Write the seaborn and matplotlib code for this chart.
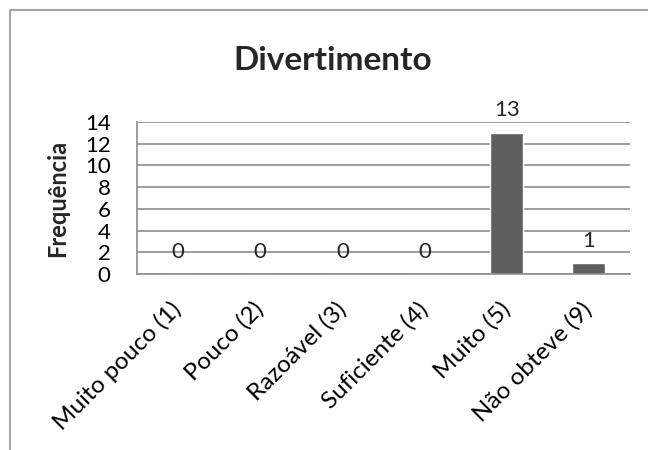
import matplotlib
matplotlib.use("Agg")
import matplotlib.pyplot as plt
import pandas as pd
import seaborn as sns

categories = ["Muito pouco (1)", "Pouco (2)", "Razoável (3)", "Suficiente (4)",
              "Muito (5)", "Não obteve (9)"]
freq = [0, 0, 0, 0, 13, 1]
yticks = [0, 2, 4, 6, 8, 10, 12, 14]

df = pd.DataFrame({"cat": categories, "freq": freq})

sns.set_style("white")
plt.rcParams["font.family"] = ["Lato", "DejaVu Sans"]

fig = plt.figure(figsize=(6.48, 4.5), dpi=100)
ax = fig.add_axes([137 / 648, 1 - 274 / 450, 493 / 648, 152 / 450])

sns.barplot(df, x="cat", y="freq", color="#5f5f5f", saturation=1, width=0.4, ax=ax)

ax.set_ylim(0, 14)
ax.set_yticks(yticks)
ax.set_xlim(-0.5, len(categories) - 0.5)
ax.yaxis.grid(True, color="#8c8c8c", linewidth=1.2)
ax.set_axisbelow(True)
for side in ["top", "right"]:
    ax.spines[side].set_visible(False)
for side in ["left", "bottom"]:
    ax.spines[side].set_color("#8c8c8c")
    ax.spines[side].set_linewidth(1.2)
ax.tick_params(axis="y", length=0, labelsize=16, colors="black", pad=19)
ax.tick_params(axis="x", length=0, labelsize=17.5, colors="black", pad=23)
ax.set_xlabel("")
ax.set_ylabel("Frequência", fontsize=17, fontweight="bold")
ax.yaxis.set_label_coords(-0.138, 0.5)

# value labels
for i, v in enumerate(freq):
    ax.annotate(str(v), (i, v), xytext=(0, 9), textcoords="offset points",
                ha="center", va="bottom", fontsize=16)

for lab in ax.get_xticklabels():
    lab.set_rotation(45)
    lab.set_ha("right")
    lab.set_va("center")
    lab.set_rotation_mode("anchor")

fig.text(333 / 648, 1 - 61 / 450, "Divertimento",
         ha="center", va="center", fontsize=24, fontweight="bold")

# chart area border (top and left)
fig.add_artist(plt.Line2D([10 / 648, 1], [1 - 10 / 450, 1 - 10 / 450],
                          transform=fig.transFigure, color="#a6a6a6", lw=1.5))
fig.add_artist(plt.Line2D([10 / 648, 10 / 648], [0, 1 - 10 / 450],
                          transform=fig.transFigure, color="#a6a6a6", lw=1.5))

fig.savefig("out.png", dpi=100)
